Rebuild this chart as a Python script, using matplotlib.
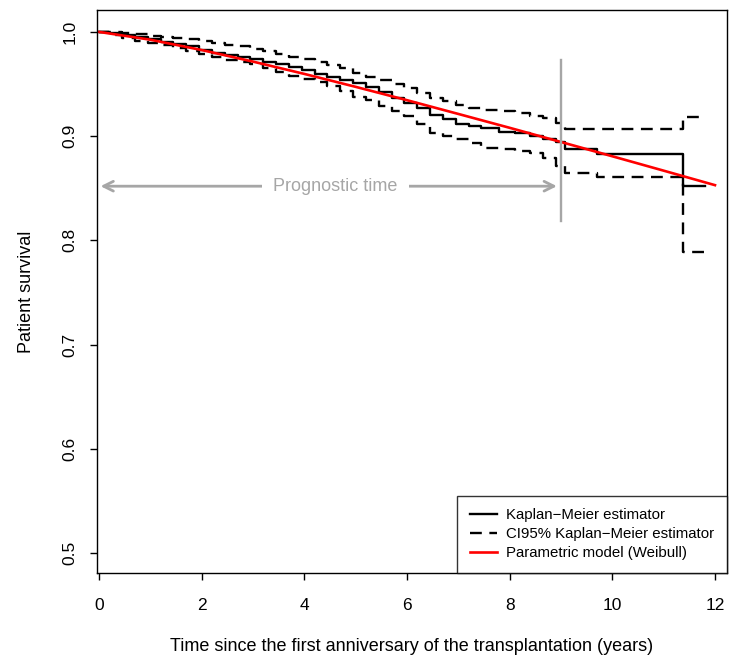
import matplotlib.pyplot as plt
import numpy as np

plt.rcParams['font.family'] = ['Liberation Sans', 'DejaVu Sans']

# Kaplan-Meier estimate and its 95% CI
times = [0, 0.2, 0.45, 0.7, 0.95, 1.2, 1.45, 1.7, 1.95, 2.2, 2.45, 2.7, 2.95,
         3.2, 3.45, 3.7, 3.95, 4.2, 4.45, 4.7, 4.95, 5.2, 5.45, 5.7, 5.95,
         6.2, 6.45, 6.7, 6.95, 7.2, 7.45, 7.8, 8.1, 8.4, 8.65, 8.9, 9.08,
         9.7, 11.38, 11.8]
km = [1.0, 0.999, 0.997, 0.995, 0.993, 0.990, 0.988, 0.986, 0.983, 0.980,
      0.978, 0.976, 0.974, 0.971, 0.969, 0.966, 0.963, 0.960, 0.957, 0.954,
      0.951, 0.947, 0.942, 0.937, 0.932, 0.927, 0.920, 0.916, 0.912, 0.910,
      0.908, 0.904, 0.903, 0.900, 0.897, 0.894, 0.8875, 0.883, 0.852, 0.852]
km_upper = [1.0, 1.0, 0.999, 0.998, 0.996, 0.995, 0.994, 0.993, 0.991, 0.989,
            0.987, 0.986, 0.984, 0.982, 0.979, 0.976, 0.974, 0.971, 0.968,
            0.965, 0.961, 0.957, 0.954, 0.950, 0.946, 0.941, 0.937, 0.934,
            0.930, 0.927, 0.925, 0.924, 0.922, 0.919, 0.917, 0.913, 0.907,
            0.907, 0.918, 0.918]
km_lower = [1.0, 0.997, 0.994, 0.991, 0.989, 0.987, 0.985, 0.982, 0.979,
            0.976, 0.973, 0.971, 0.969, 0.965, 0.962, 0.958, 0.955, 0.952,
            0.948, 0.943, 0.938, 0.935, 0.929, 0.924, 0.919, 0.912, 0.903,
            0.900, 0.897, 0.893, 0.889, 0.888, 0.886, 0.884, 0.879, 0.871,
            0.865, 0.861, 0.789, 0.789]

# Weibull model curve
weib_t = [0, 1, 2, 3, 4, 5, 6, 7, 8, 9, 10, 11, 12]
weib_s = [1.0, 0.9925, 0.9826, 0.9715, 0.9597, 0.9473, 0.9345, 0.9213,
          0.9080, 0.8944, 0.8807, 0.8669, 0.853]

prog_time = 9
xticks = [0, 2, 4, 6, 8, 10, 12]
yticks = [0.5, 0.6, 0.7, 0.8, 0.9, 1.0]

fig = plt.figure(figsize=(7.29, 6.64), dpi=100)
ax = fig.add_axes([97 / 729, 1 - 573 / 664, 630 / 729, 563 / 664])

ax.step(times, km, where='post', color='black', lw=1.7,
        label='Kaplan\u2212Meier estimator')
ax.step(times, km_upper, where='post', color='black', lw=1.7,
        dashes=(5, 3.2), label='CI95% Kaplan\u2212Meier estimator')
ax.step(times, km_lower, where='post', color='black', lw=1.7,
        dashes=(5, 3.2))
ax.plot(weib_t, weib_s, color='#ff0000', lw=1.9,
        label='Parametric model (Weibull)')

# prognostic time marker
ax.plot([prog_time, prog_time], [0.819, 0.973], color='#a6a6a6', lw=1.7)
ax.annotate('', xy=(0.03, 0.852), xytext=(prog_time - 0.08, 0.852),
            arrowprops=dict(arrowstyle='<->,head_length=0.7,head_width=0.35',
                            color='#a6a6a6', lw=2, shrinkA=0, shrinkB=0))
ax.text(4.6, 0.852, 'Prognostic time', color='#a6a6a6', fontsize=13,
        ha='center', va='center',
        bbox=dict(facecolor='white', edgecolor='none', pad=8))

ax.set_xlim(-0.039, 12.234)
ax.set_ylim(0.481, 1.021)
ax.set_xticks(xticks)
ax.set_xticklabels([str(v) for v in xticks])
ax.set_yticks(yticks)
ax.set_yticklabels([f'{v:.1f}' for v in yticks], rotation=90, va='center')
ax.tick_params(direction='out', length=5, width=1, labelsize=12.5)
ax.tick_params(axis='x', pad=13)
ax.tick_params(axis='y', pad=9)
for s in ax.spines.values():
    s.set_linewidth(1)

ax.set_xlabel('Time since the first anniversary of the transplantation (years)',
              fontsize=13, labelpad=18)
ax.set_ylabel('Patient survival', fontsize=13, labelpad=20)

leg = ax.legend(loc='lower right', fontsize=10.8, frameon=True, fancybox=False,
                borderaxespad=0, handlelength=1.8, handletextpad=0.6,
                borderpad=0.85, labelspacing=0.33)
leg.get_frame().set_edgecolor('black')
leg.get_frame().set_linewidth(1)

fig.savefig('out.png', dpi=100)
